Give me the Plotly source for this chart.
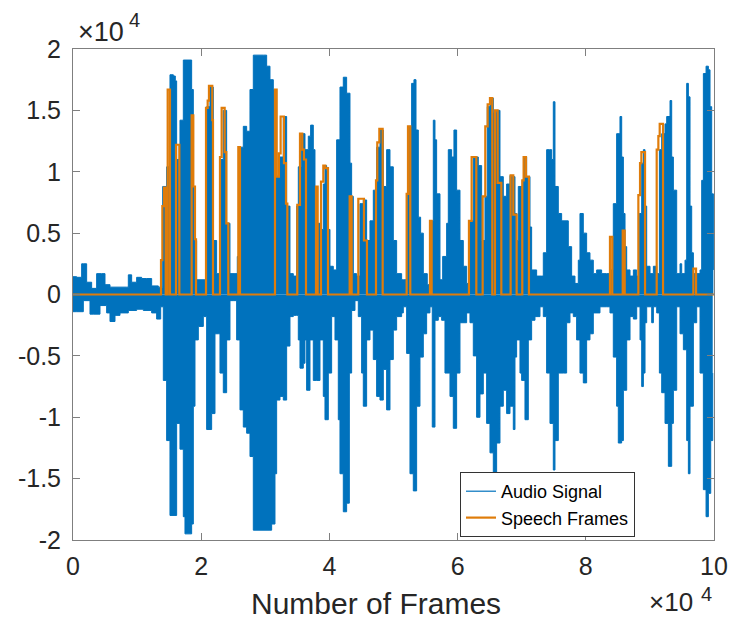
import plotly.graph_objects as go

SCALE = 1e4  # values below are in units of 1e4

# Audio signal envelope (upper peaks), frame position x1e4 and amplitude x1e4
upper_x = [0.0, 0.057, 0.135, 0.161, 0.213, 0.291, 0.369, 0.447, 0.499, 0.577, 0.733, 0.837, 0.863, 0.915, 0.993,
           1.071, 1.149, 1.227, 1.331, 1.368, 1.399, 1.461, 1.513, 1.565, 1.596, 1.617, 1.669, 1.721, 1.825, 1.851,
           1.877, 1.903, 1.929, 2.059, 2.085, 2.137, 2.163, 2.189, 2.241, 2.293, 2.345, 2.397, 2.449, 2.527, 2.563,
           2.605, 2.657, 2.709, 2.761, 2.813, 2.969, 3.021, 3.073, 3.125, 3.177, 3.229, 3.281, 3.333, 3.385, 3.437,
           3.489, 3.515, 3.567, 3.619, 3.671, 3.707, 3.749, 3.775, 3.801, 3.853, 3.879, 3.905, 3.931, 3.957, 3.983,
           4.009, 4.061, 4.113, 4.165, 4.217, 4.269, 4.321, 4.347, 4.373, 4.425, 4.477, 4.529, 4.581, 4.633, 4.685,
           4.737, 4.789, 4.841, 4.893, 4.945, 4.997, 5.049, 5.127, 5.153, 5.205, 5.231, 5.283, 5.319, 5.351, 5.387,
           5.423, 5.465, 5.527, 5.579, 5.621, 5.647, 5.673, 5.725, 5.767, 5.829, 5.855, 5.907, 5.943, 5.985, 6.037,
           6.089, 6.141, 6.193, 6.245, 6.323, 6.375, 6.427, 6.463, 6.505, 6.557, 6.609, 6.661, 6.713, 6.765, 6.817,
           6.869, 6.895, 6.921, 6.947, 7.009, 7.035, 7.077, 7.129, 7.155, 7.233, 7.311, 7.337, 7.389, 7.431, 7.467,
           7.493, 7.519, 7.571, 7.623, 7.675, 7.727, 7.779, 7.831, 7.883, 7.909, 7.961, 8.013, 8.065, 8.117, 8.169,
           8.247, 8.325, 8.377, 8.429, 8.481, 8.533, 8.560, 8.586, 8.612, 8.638, 8.690, 8.742, 8.794, 8.836, 8.872,
           8.898, 8.924, 8.950, 9.002, 9.054, 9.106, 9.148, 9.184, 9.236, 9.262, 9.314, 9.340, 9.366, 9.418, 9.470,
           9.496, 9.548, 9.574, 9.600, 9.626, 9.652, 9.678, 9.730, 9.782, 9.808, 9.834, 9.876, 9.912, 9.938, 9.964,
           9.990]
upper_y = [0.145, 0.14, 0.25, 0.25, 0.10, 0.05, 0.17, 0.17, 0.08, 0.06, 0.06, 0.06, 0.16, 0.10, 0.14,
           0.13, 0.13, 0.07, 0.06, 0.06, 0.88, 1.04, 1.79, 1.78, 1.74, 1.10, 1.42, 1.91, 1.91, 1.67,
           0.88, 0.44, 0.12, 0.12, 1.53, 1.69, 1.69, 0.44, 0.17, 1.10, 1.50, 0.58, 0.17, 0.17, 0.31,
           1.20, 1.37, 1.33, 1.67, 1.95, 1.95, 1.86, 1.75, 1.67, 0.96, 1.12, 1.45, 0.72, 0.17, 0.15,
           0.72, 1.04, 1.31, 1.18, 1.29, 1.38, 1.18, 0.88, 0.58, 0.42, 0.53, 0.90, 1.05, 1.01, 0.53,
           0.23, 0.20, 1.26, 1.69, 1.77, 1.64, 1.07, 0.80, 0.17, 0.15, 0.74, 0.77, 0.44, 0.60, 0.85,
           1.20, 1.34, 0.88, 1.18, 1.04, 0.44, 0.17, 0.12, 0.12, 0.82, 1.37, 1.72, 1.75, 1.34, 0.63,
           0.50, 0.17, 0.08, 0.60, 1.42, 1.26, 0.82, 0.12, 0.31, 0.58, 1.18, 1.12, 1.34, 0.85, 0.44,
           0.23, 0.09, 0.60, 1.12, 1.05, 0.44, 0.80, 1.53, 1.60, 1.48, 1.50, 0.96, 0.80, 0.90, 0.97,
           0.96, 0.66, 0.44, 0.88, 0.93, 1.12, 0.96, 0.55, 0.20, 0.15, 0.15, 0.34, 1.18, 1.18, 1.10,
           1.57, 0.88, 0.66, 0.60, 0.60, 0.39, 0.15, 0.09, 0.28, 0.66, 0.50, 0.34, 0.28, 0.17, 0.20,
           0.17, 0.17, 0.20, 0.74, 1.31, 1.45, 1.12, 0.66, 0.39, 0.20, 0.15, 0.20, 0.15, 0.66, 1.07,
           1.18, 0.72, 0.23, 0.17, 0.23, 0.17, 1.18, 1.31, 1.39, 1.45, 1.58, 1.12, 0.85, 0.17, 0.25,
           0.17, 0.28, 1.72, 1.61, 0.72, 0.34, 0.17, 0.17, 0.20, 0.93, 1.80, 1.86, 1.83, 1.53, 0.82,
           0.20]

# Audio signal envelope (lower peaks)
lower_x = [0.0, 0.057, 0.161, 0.265, 0.317, 0.421, 0.525, 0.577, 0.655, 0.733, 0.863, 0.993, 1.097, 1.227, 1.305,
           1.368, 1.409, 1.461, 1.513, 1.591, 1.617, 1.669, 1.721, 1.747, 1.825, 1.851, 1.877, 1.903, 1.955, 2.033,
           2.085, 2.137, 2.163, 2.215, 2.267, 2.293, 2.345, 2.397, 2.449, 2.501, 2.553, 2.605, 2.657, 2.709, 2.761,
           2.813, 3.073, 3.099, 3.151, 3.177, 3.229, 3.281, 3.333, 3.385, 3.437, 3.489, 3.515, 3.541, 3.593, 3.619,
           3.645, 3.697, 3.749, 3.801, 3.853, 3.905, 3.931, 3.983, 4.035, 4.087, 4.139, 4.165, 4.217, 4.269, 4.311,
           4.347, 4.399, 4.451, 4.503, 4.529, 4.581, 4.633, 4.685, 4.737, 4.789, 4.841, 4.893, 4.945, 4.997, 5.049,
           5.127, 5.153, 5.205, 5.257, 5.309, 5.361, 5.413, 5.465, 5.517, 5.569, 5.605, 5.647, 5.699, 5.751, 5.803,
           5.881, 5.933, 5.985, 6.037, 6.141, 6.193, 6.245, 6.297, 6.349, 6.401, 6.453, 6.505, 6.557, 6.609, 6.661,
           6.713, 6.765, 6.817, 6.869, 6.895, 6.921, 6.973, 6.999, 7.051, 7.103, 7.155, 7.207, 7.285, 7.337, 7.389,
           7.441, 7.493, 7.519, 7.571, 7.649, 7.701, 7.753, 7.805, 7.857, 7.909, 7.961, 8.013, 8.065, 8.117, 8.221,
           8.325, 8.377, 8.429, 8.481, 8.507, 8.559, 8.586, 8.638, 8.690, 8.742, 8.794, 8.846, 8.872, 8.898, 8.924,
           8.950, 9.028, 9.054, 9.106, 9.148, 9.184, 9.236, 9.288, 9.340, 9.366, 9.418, 9.470, 9.522, 9.574, 9.600,
           9.626, 9.678, 9.730, 9.782, 9.834, 9.876, 9.912, 9.949, 9.980]
lower_y = [-0.14, -0.14, -0.05, -0.16, -0.16, -0.09, -0.15, -0.22, -0.17, -0.15, -0.13, -0.12, -0.13, -0.15, -0.20,
           -0.10, -0.70, -1.19, -1.80, -1.80, -1.05, -1.26, -1.81, -1.95, -1.95, -1.87, -0.91, -0.37, -0.26, -0.18,
           -1.10, -1.10, -0.97, -0.32, -0.32, -0.64, -0.80, -0.37, -0.05, -0.05, -0.37, -0.94, -1.08, -1.13, -1.32,
           -1.92, -1.92, -1.87, -1.46, -0.86, -0.83, -0.86, -0.42, -0.18, -0.17, -0.17, -0.37, -0.60, -0.56, -0.37,
           -0.78, -0.37, -0.70, -0.70, -0.37, -0.83, -1.02, -0.64, -0.18, -0.37, -1.02, -1.46, -1.77, -1.70, -0.64,
           -0.13, -0.05, -0.18, -0.64, -0.91, -0.37, -0.29, -0.53, -0.83, -0.86, -0.61, -0.94, -0.53, -0.29, -0.18,
           -0.15, -0.10, -0.48, -1.46, -1.60, -0.91, -0.51, -0.32, -0.15, -0.10, -1.08, -0.21, -0.18, -0.21, -0.64,
           -0.83, -1.09, -0.64, -0.23, -0.15, -0.23, -0.50, -1.00, -0.81, -0.64, -1.05, -1.29, -1.49, -1.21, -0.91,
           -0.78, -0.97, -0.91, -1.10, -0.51, -0.37, -0.64, -0.70, -1.02, -0.37, -0.21, -0.18, -0.10, -0.18, -0.64,
           -1.05, -1.43, -1.19, -0.64, -0.64, -0.23, -0.15, -0.18, -0.37, -0.64, -0.72, -0.37, -0.32, -0.15, -0.10,
           -0.10, -0.15, -0.51, -0.91, -1.21, -1.19, -0.78, -0.37, -0.18, -0.20, -0.10, -0.37, -0.75, -0.64, -0.23,
           -0.10, -0.23, -0.10, -0.15, -0.64, -0.80, -1.05, -1.40, -1.05, -0.78, -0.10, -0.32, -0.45, -1.19, -1.46,
           -0.91, -0.23, -0.10, -0.64, -1.59, -1.81, -1.62, -1.19, -0.64]

# Speech frames: step breakpoints (x1e4) and level starting at each breakpoint (x1e4)
speech_x = [0.0, 1.373, 1.394, 1.420, 1.446, 1.477, 1.513, 1.607, 1.659,
            1.851, 1.877, 1.903, 1.919, 2.075, 2.101, 2.121, 2.173, 2.184,
            2.293, 2.319, 2.366, 2.392, 2.423, 2.579, 2.605,
            3.151, 3.177, 3.213, 3.239, 3.291, 3.323, 3.344,
            3.499, 3.541, 3.577, 3.603, 3.635, 3.791, 3.817, 3.869, 3.905, 3.936, 3.978,
            4.316, 4.347, 4.451, 4.539, 4.586, 4.727, 4.747, 4.779, 4.831,
            5.205, 5.226, 5.262, 5.569, 5.595, 6.177, 6.219, 6.292,
            6.391, 6.432, 6.469, 6.505, 6.541, 6.583, 6.625, 6.682,
            6.827, 6.869, 6.921, 7.009, 7.030, 7.067, 7.113, 8.377, 8.413,
            8.576, 8.607, 8.820, 8.846, 8.867, 8.924, 9.106, 9.132, 9.153, 9.205,
            9.678, 9.720, 10.0]
speech_y = [0.0, 0.28, 0.72, 0.87, 0.0, 1.67, 0.0, 1.22, 0.0,
            1.46, 0.88, 0.45, 0.0, 1.52, 1.58, 1.70, 1.42, 0.0,
            1.12, 1.52, 1.16, 0.58, 0.0, 1.20, 0.0,
            1.67, 0.96, 1.15, 1.45, 1.07, 0.74, 0.0,
            0.73, 1.31, 1.18, 1.10, 0.0, 0.88, 0.0, 0.92, 1.05, 1.03, 0.0,
            0.80, 0.0, 0.78, 0.44, 0.0, 0.93, 1.24, 1.35, 0.0,
            0.82, 1.37, 0.0, 0.60, 0.0, 0.60, 1.12, 0.0,
            0.80, 1.37, 1.55, 1.60, 0.0, 1.50, 0.91, 0.0,
            0.97, 0.65, 0.0, 0.93, 1.12, 0.96, 0.0, 0.47, 0.0,
            0.52, 0.0, 0.81, 1.07, 1.16, 0.0, 1.18, 1.29, 1.39, 0.0,
            0.21, 0.0, 0.0]

x_tick_vals = [0, 2, 4, 6, 8, 10]
x_tick_text = ["0", "2", "4", "6", "8", "10"]
y_tick_vals = [-2, -1.5, -1, -0.5, 0, 0.5, 1, 1.5, 2]
y_tick_text = ["-2", "-1.5", "-1", "-0.5", "0", "0.5", "1", "1.5", "2"]

BLUE = "#0072BD"
ORANGE = "#DF7C0A"
AXC = "#262626"
FONT = "Liberation Sans, Arial, sans-serif"

W, H = 729, 619
L, R, T, B = 73, 15, 49, 79
PW, PH = W - L - R, H - T - B


def px(x):
    return (x - L) / PW


def py(y):
    return (H - B - y) / PH


fig = go.Figure()
for xs, ys in ((upper_x, upper_y), (lower_x, lower_y)):
    fig.add_trace(go.Scatter(x=[v * SCALE for v in xs], y=[v * SCALE for v in ys], mode="lines",
                             fill="tozeroy", fillcolor=BLUE, line=dict(color=BLUE, width=1, shape="hv"),
                             showlegend=False, hoverinfo="skip"))
fig.add_trace(go.Scatter(x=[None], y=[None], mode="lines", name="Audio Signal",
                         line=dict(color=BLUE, width=1.2)))
fig.add_trace(go.Scatter(x=[v * SCALE for v in speech_x], y=[v * SCALE for v in speech_y],
                         mode="lines", line=dict(color=ORANGE, width=2.2, shape="hv"),
                         name="Speech Frames"))

axis_common = dict(showgrid=False, zeroline=False, showline=True, linecolor="#7f7f7f", linewidth=1,
                   mirror="ticks", ticks="inside", ticklen=7, tickcolor="#7f7f7f", tickwidth=1,
                   automargin=False, tickfont=dict(family=FONT, size=25, color=AXC))

fig.update_layout(
    width=W, height=H,
    margin=dict(l=L, r=R, t=T, b=B, autoexpand=False),
    paper_bgcolor="white", plot_bgcolor="white",
    font=dict(family=FONT, color=AXC),
    xaxis=dict(range=[0, 10 * SCALE], tickvals=[v * SCALE for v in x_tick_vals], ticktext=x_tick_text,
               ticklabelstandoff=4, **axis_common),
    yaxis=dict(range=[-2 * SCALE, 2 * SCALE], tickvals=[v * SCALE for v in y_tick_vals], ticktext=y_tick_text,
               ticklabelstandoff=6, **axis_common),
    legend=dict(x=px(635), y=py(537), xanchor="right", yanchor="bottom", bgcolor="white",
                bordercolor="#333333", borderwidth=1, font=dict(family=FONT, size=18, color="#000000"),
                tracegroupgap=0, itemwidth=30, entrywidth=147),
    showlegend=True,
    annotations=[
        dict(text="Number of Frames", x=px(376), y=py(603), xref="paper", yref="paper", showarrow=False,
             xanchor="center", yanchor="middle", font=dict(family=FONT, size=30, color=AXC)),
        dict(text="×10", x=px(101), y=py(32), xref="paper", yref="paper", showarrow=False,
             xanchor="center", yanchor="middle", font=dict(family=FONT, size=27, color=AXC)),
        dict(text="4", x=px(134), y=py(20), xref="paper", yref="paper", showarrow=False,
             xanchor="center", yanchor="middle", font=dict(family=FONT, size=20, color=AXC)),
        dict(text="×10", x=px(671), y=py(619), xref="paper", yref="paper", showarrow=False,
             xanchor="center", yanchor="bottom", font=dict(family=FONT, size=26, color=AXC)),
        dict(text="4", x=px(706), y=py(594), xref="paper", yref="paper", showarrow=False,
             xanchor="center", yanchor="middle", font=dict(family=FONT, size=20, color=AXC)),
    ],
)

fig.write_html("out.html")
